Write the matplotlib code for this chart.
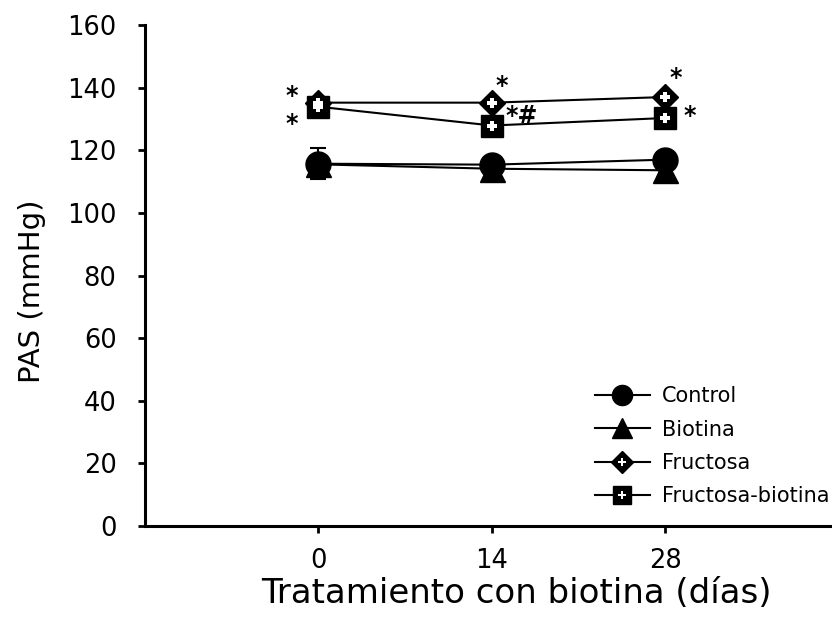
import matplotlib.pyplot as plt
from matplotlib.lines import Line2D
from matplotlib.legend_handler import HandlerTuple

plt.rcParams['font.family'] = ['DejaVu Sans']

# data
dias = [0, 14, 28]
control = [115.7, 115.4, 117.0]
control_err = [5.0, 0, 0]
biotina = [115.5, 114.1, 113.6]
fructosa = [135.2, 135.2, 137.0]
fructosa_biotina = [133.9, 127.9, 130.3]

# significance marks (x in days, y in mmHg)
marcas_x = [-2.15, -2.15, 14.8, 16.4, 28.8, 30.0]
marcas_y = [137.3, 128.3, 140.5, 130.9, 143.2, 130.9]
marcas_txt = ['*', '*', '*', '*#', '*', '*']

fig = plt.figure(figsize=(8.32, 6.25), dpi=100)
ax = fig.add_axes([0.1743, 0.1584, 0.834, 0.8016])

lw = 1.5
ax.errorbar(dias, control, yerr=control_err, color='black', lw=lw,
            marker='o', ms=18, capsize=6, capthick=1.5, zorder=3)
ax.plot(dias, biotina, color='black', lw=lw, marker='^', ms=18, zorder=3)
ax.plot(dias, fructosa, color='black', lw=lw, marker='D', ms=13, zorder=3)
ax.plot(dias, fructosa, ls='none', marker='P', ms=7, color='white',
        markeredgewidth=0, zorder=4)
ax.plot(dias, fructosa_biotina, color='black', lw=lw, marker='s', ms=15.5, zorder=3)
ax.plot(dias, fructosa_biotina, ls='none', marker='P', ms=7, color='white',
        markeredgewidth=0, zorder=4)

for x, y, t in zip(marcas_x, marcas_y, marcas_txt):
    ax.text(x, y, t, fontsize=17, fontweight='bold', ha='center', va='center')

ax.set_xlim(-14, 42)
ax.set_ylim(0, 160)
ax.set_xticks(dias)
ax.set_yticks(range(0, 161, 20))
ax.tick_params(labelsize=18.5, width=2, length=5, direction='out')
ax.tick_params(axis='y', pad=15.5)
ax.tick_params(axis='x', pad=11)
ax.spines['top'].set_visible(False)
ax.spines['right'].set_visible(False)
ax.spines['left'].set_linewidth(2.2)
ax.spines['bottom'].set_linewidth(2.2)
ax.set_xlabel('Tratamiento con biotina (días)', fontsize=24.5)
ax.set_ylabel('PAS (mmHg)', fontsize=21)
ax.xaxis.set_label_coords(0.535, -0.102)
ax.yaxis.set_label_coords(-0.143, 0.469)


def handle(marker, size, plus=False):
    base = Line2D([], [], color='black', lw=lw, marker=marker, ms=size)
    if plus:
        return (base, Line2D([], [], ls='none', marker='P', ms=6, color='white',
                             markeredgewidth=0))
    return (base,)


handles = [handle('o', 14.5), handle('^', 14.5), handle('D', 11, True),
           handle('s', 12.5, True)]
labels = ['Control', 'Biotina', 'Fructosa', 'Fructosa-biotina']
fig.legend(handles, labels, loc='upper left', bbox_to_anchor=(0.715, 0.382),
           frameon=False, fontsize=15, handlelength=2.65, handletextpad=0.58,
           labelspacing=0.64, borderpad=0, borderaxespad=0,
           handler_map={tuple: HandlerTuple(ndivide=1, pad=0)})

fig.savefig('out.png', dpi=100)
